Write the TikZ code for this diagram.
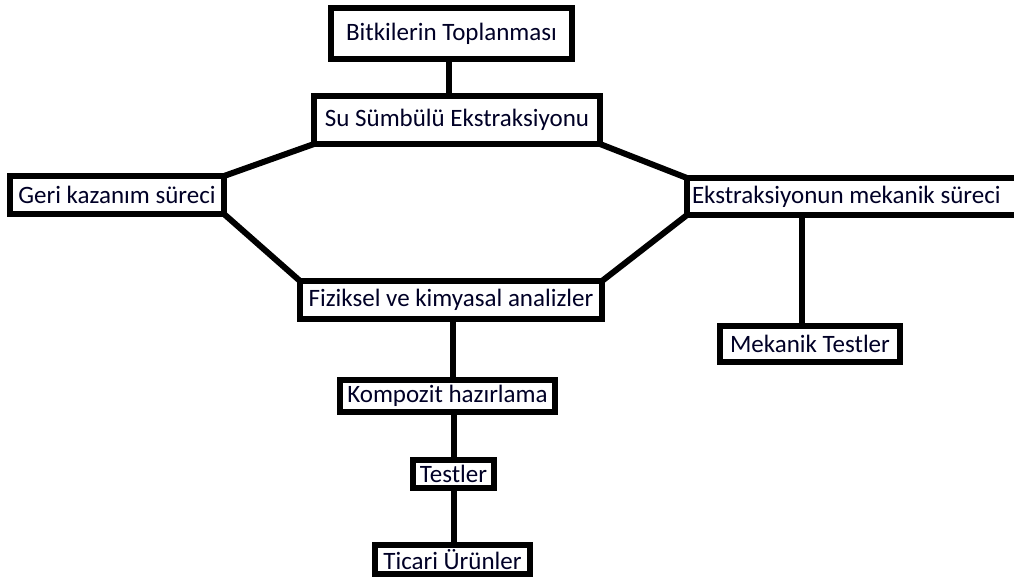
\documentclass[tikz,border=0pt]{standalone}
\usepackage{fontspec}
\setmainfont{Carlito}
\begin{document}
\begin{tikzpicture}[x=1pt,y=-1pt,
  box/.style={draw=black,line width=6pt,fill=white,inner sep=0pt,outer sep=0pt,font=\fontsize{25}{28}\selectfont,text=black!85!blue},
  link/.style={line width=6pt}]
\useasboundingbox (0,0) rectangle (1014,579);
\clip (0,0) rectangle (1014,579);
\fill[white] (0,0) rectangle (1014,579);
\node[box,minimum width=241pt,minimum height=51pt] (b1) at (451.5,33.5) {Bitkilerin Toplanması};
\node[box,minimum width=286pt,minimum height=48pt] (b2) at (457,120) {Su Sümbülü Ekstraksiyonu};
\node[box,minimum width=214pt,minimum height=38pt] (b3) at (117,195) {Geri kazanım süreci};
\node[box,minimum width=350pt,minimum height=37pt] (b4) at (862,196.5) {\makebox[340pt][l]{Ekstraksiyonun mekanik süreci}};
\node[box,minimum width=302pt,minimum height=38pt] (b5) at (451,300) {Fiziksel ve kimyasal analizler};
\node[box,minimum width=180pt,minimum height=36pt] (b6) at (810,344) {Mekanik Testler};
\node[box,minimum width=215pt,minimum height=32pt] (b7) at (447.5,396) {Kompozit hazırlama};
\node[box,minimum width=81pt,minimum height=28pt] (b8) at (453.5,474) {Testler};
\node[box,minimum width=155pt,minimum height=29pt] (b9) at (452.5,559.5) {Ticari Ürünler};
\draw[link] ([xshift=-2.5pt]b1.south) -- ([xshift=-2.5pt]b1.south |- b2.north);
\draw[link] (b2.south west) -- (b3.north east);
\draw[link] (b3.south east) -- (b5.north west);
\draw[link] (b2.south east) -- (b4.north west);
\draw[link] (b4.south west) -- (b5.north east);
\draw[link] ([xshift=-8pt]b6.north) -- ([xshift=-8pt]b6.north |- b4.south);
\draw[link] ([xshift=5.5pt]b7.north) -- ([xshift=5.5pt]b7.north |- b5.south);
\draw[link] (b7.south -| b8.north) -- (b8.north);
\draw[link] (b8.south) -- (b8.south |- b9.north);
\end{tikzpicture}
\end{document}
